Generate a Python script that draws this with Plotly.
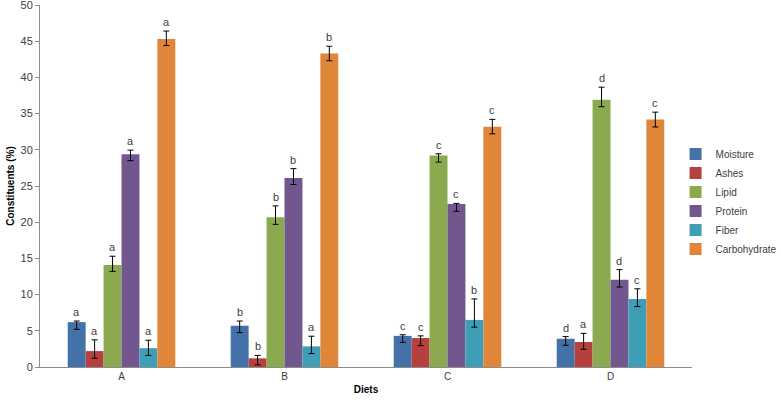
import plotly.graph_objects as go

diets = ["A", "B", "C", "D"]
series = ["Moisture", "Ashes", "Lipid", "Protein", "Fiber", "Carbohydrate"]
colors = ["#4472A8", "#B5413E", "#8BAA4F", "#72578F", "#3E9EB5", "#E08639"]

values = {
    "Moisture":     [6.2, 5.7, 4.3, 3.9],
    "Ashes":        [2.2, 1.2, 4.0, 3.45],
    "Lipid":        [14.1, 20.7, 29.2, 36.9],
    "Protein":      [29.4, 26.1, 22.5, 12.05],
    "Fiber":        [2.6, 2.85, 6.5, 9.4],
    "Carbohydrate": [45.3, 43.3, 33.2, 34.2],
}
err_plus = {
    "Moisture":     [0.15, 0.65, 0.15, 0.3],
    "Ashes":        [1.55, 0.4, 0.3, 1.2],
    "Lipid":        [1.2, 1.55, 0.25, 1.75],
    "Protein":      [0.55, 1.3, 0.1, 1.4],
    "Fiber":        [1.1, 1.4, 2.9, 1.4],
    "Carbohydrate": [1.1, 1.0, 1.0, 1.0],
}
err_minus = {
    "Moisture":     [1.0, 0.95, 0.9, 0.9],
    "Ashes":        [1.0, 0.9, 1.05, 1.0],
    "Lipid":        [0.9, 1.0, 0.9, 0.95],
    "Protein":      [0.9, 0.9, 1.0, 1.0],
    "Fiber":        [1.0, 1.0, 1.0, 1.05],
    "Carbohydrate": [0.9, 1.0, 1.0, 1.05],
}
letters = {
    "Moisture":     ["a", "b", "c", "d"],
    "Ashes":        ["a", "b", "c", "a"],
    "Lipid":        ["a", "b", "c", "d"],
    "Protein":      ["a", "b", "c", "d"],
    "Fiber":        ["a", "a", "b", "c"],
    "Carbohydrate": ["a", "b", "c", "c"],
}
y_ticks = [0, 5, 10, 15, 20, 25, 30, 35, 40, 45, 50]

W, H = 781, 404
ml, mr, mt, mb = 40, 89, 5, 37
bargap = 0.34
font_family = "Liberation Sans"
txt_color = "#404040"

fig = go.Figure()
for s, c in zip(series, colors):
    fig.add_trace(go.Bar(
        name=s, x=diets, y=values[s], marker_color=c, marker_line_width=0,
        error_y=dict(type="data", symmetric=False, array=err_plus[s],
                     arrayminus=err_minus[s], color="black", thickness=1, width=3),
    ))

# letter annotations above error bars
plot_w = W - ml - mr
cat_w = plot_w / len(diets)
bar_w = cat_w * (1 - bargap) / len(series)
anns = []
for i, s in enumerate(series):
    shift = (i - (len(series) - 1) / 2) * bar_w
    for j, d in enumerate(diets):
        anns.append(dict(
            x=d, y=values[s][j] + err_plus[s][j], text=letters[s][j],
            xref="x", yref="y", showarrow=False, xshift=shift,
            yanchor="bottom", yshift=1,
            font=dict(size=11, color=txt_color, family=font_family),
        ))

fig.update_layout(
    width=W, height=H,
    margin=dict(l=ml, r=mr, t=mt, b=mb, autoexpand=False),
    paper_bgcolor="white", plot_bgcolor="white",
    barmode="group", bargap=bargap, bargroupgap=0,
    font=dict(family=font_family, size=11, color=txt_color),
    annotations=anns,
    legend=dict(xref="container", yref="container", x=0.865, y=0.655,
                xanchor="left", yanchor="top", itemwidth=30,
                font=dict(size=10, color=txt_color), tracegroupgap=0,
                bgcolor="rgba(0,0,0,0)"),
    xaxis=dict(
        automargin=False,
        showline=True, linecolor="#8C8C8C", linewidth=1, ticks="",
        tickfont=dict(size=10, color=txt_color),
        title=dict(text="<b>Diets</b>", font=dict(size=10, color="#000000"), standoff=4),
    ),
    yaxis=dict(
        automargin=False, ticklabeloverflow="allow",
        range=[0, 50], tickmode="array", tickvals=y_ticks,
        showgrid=False, zeroline=False,
        showline=True, linecolor="#8C8C8C", linewidth=1,
        ticks="outside", ticklen=4, tickcolor="#8C8C8C",
        tickfont=dict(size=11, color=txt_color),
        title=dict(text="<b>Constituents (%)</b>", font=dict(size=10, color="#000000"), standoff=4),
    ),
)

fig.write_html("out.html", config={"displayModeBar": False},
               post_script="document.body.style.margin='0';document.body.style.padding='0';")
